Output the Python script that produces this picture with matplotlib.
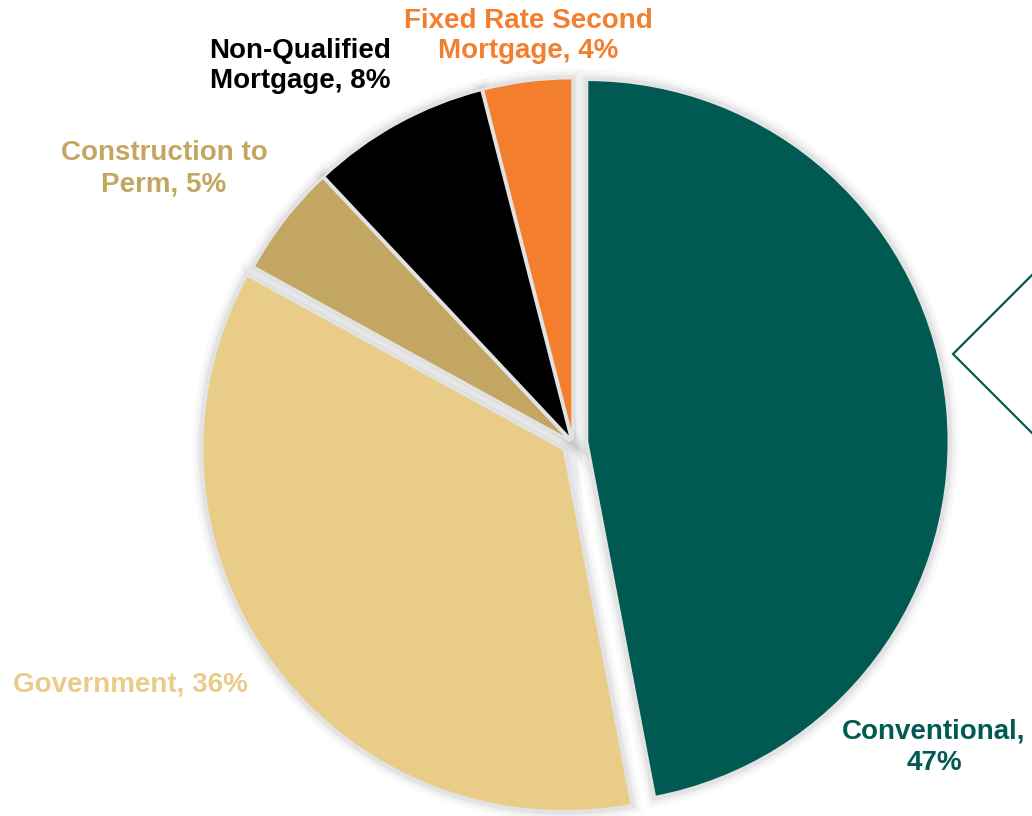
import matplotlib.pyplot as plt

# loan mix by product
labels = ['Conventional', 'Government', 'Construction to Perm',
          'Non-Qualified Mortgage', 'Fixed Rate Second Mortgage']
shares = [47, 36, 5, 8, 4]
colors = ['#005a52', '#e8cc88', '#c2a661', '#000000', '#f37f2e']
explode = [14, 11, 3, 3, 3]  # offsets in pixels (pie uses data units)

# label text as shown on the chart (line breaks included)
label_lines = ['Conventional,\n{}%', 'Government, {}%', 'Construction to\nPerm, {}%',
               'Non-Qualified\nMortgage, {}%', 'Fixed Rate Second\nMortgage, {}%']
label_pos = [(934, 69), (130, 131), (164, 647), (300, 750), (528, 780)]
label_colors = ['#005a52', '#e8cc88', '#c2a661', '#000000', '#f37f2e']

W, H = 1032, 816
fig = plt.figure(figsize=(W / 100, H / 100), dpi=100)
ax = fig.add_axes([0, 0, 1, 1])

cx, cy, r = 573, H - 443, 362

# soft grey halo under the wedges
for lw, a in [(14, 0.05), (9, 0.08), (5, 0.14)]:
    ax.pie(shares, explode=explode, colors=colors, startangle=90, counterclock=False,
           center=(cx, cy), radius=r,
           wedgeprops=dict(edgecolor='#9a9a9a', linewidth=lw, alpha=a))
ax.pie(shares, explode=explode, colors=colors, startangle=90, counterclock=False,
       center=(cx, cy), radius=r,
       wedgeprops=dict(edgecolor='#e2e2e2', linewidth=2.0))

for txt, v, (x, y), c in zip(label_lines, shares, label_pos, label_colors):
    ax.text(x, y, txt.format(v), ha='center', va='center', color=c, fontsize=20,
            fontweight='bold', family='Liberation Sans', linespacing=1.25)

# callout bracket at the right edge
ax.plot([1040, 953, 1040], [H - 267, H - 354, H - 441], color='#005a52', lw=1.6,
        solid_joinstyle='miter')

ax.set_xlim(0, W)
ax.set_ylim(0, H)
ax.set_aspect('auto')
ax.axis('off')

fig.savefig('out.png', dpi=100, facecolor='white')
